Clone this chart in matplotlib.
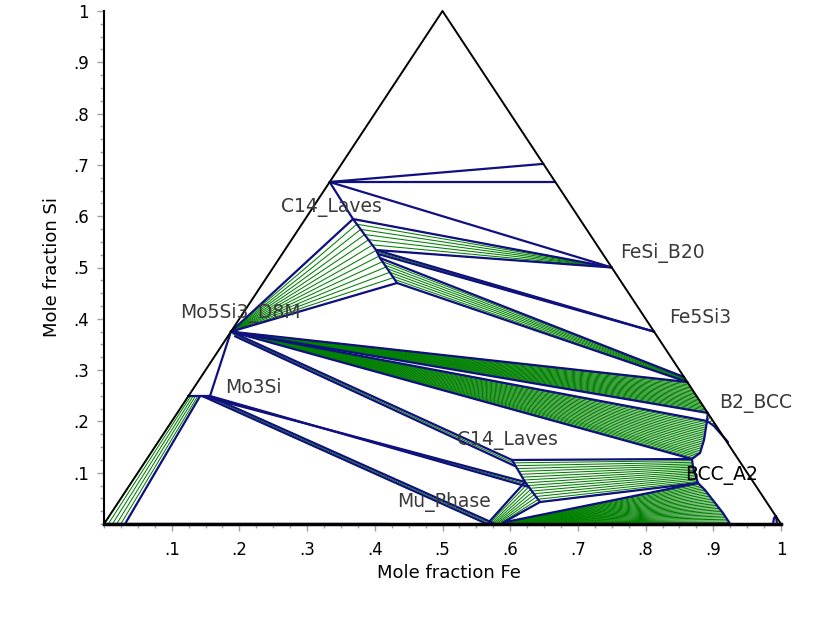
import numpy as np
import matplotlib.pyplot as plt

# ---------------------------------------------
# key points
# plot coordinates: x along the Fe axis, y = mole fraction Si
# ---------------------------------------------
corner_mo = (0.0, 0.0)
corner_fe = (1.0, 0.0)
corner_si = (0.5, 1.0)

mosi2 = (0.3333, 0.6667)
si_edge_hi = (0.649, 0.702)
si_edge_lo = (0.6667, 0.6667)
fesi = (0.75, 0.5)
fe5si3 = (0.8125, 0.375)
mo5si3 = (0.1875, 0.375)
mo5si3_b = (0.1935, 0.366)

# upper C14 boundary: B, D, D', E, C
c14_hi = [(0.3678, 0.5945), (0.4018, 0.5341), (0.4047, 0.5263),
          (0.4077, 0.5185), (0.4328, 0.4698)]

b2_edge = [(0.8567, 0.2865), (0.8616, 0.2768), (0.8918, 0.2164)]

bcc_a2 = [(0.8907, 0.2008), (0.8863, 0.1637), (0.8804, 0.1384),
          (0.8685, 0.1267), (0.8700, 0.1111), (0.8774, 0.0799),
          (0.8877, 0.0663), (0.9143, 0.0214), (0.925, 0.0)]

b2_a2 = [(0.8907, 0.2008), (0.9010, 0.1910), (0.9217, 0.1598)]

c14_lo = [(0.6027, 0.1248), (0.6219, 0.0819), (0.6440, 0.0429)]
c14_lo_b = [(0.607, 0.113), (0.628, 0.072)]
mu = [(0.566, 0.0), (0.590, 0.003)]
mu_b = (0.578, 0.0)
mo3si = [(0.1248, 0.2495), (0.145, 0.2495), (0.1566, 0.2495)]
mo3si_b = (0.155, 0.2495)
mo3si_bcc = (0.142, 0.2495)
mo_bcc = [(0.0, 0.0), (0.031, 0.0)]
bottom_bcc_end = (0.42, 0.0)
corner_arc = [(0.9882, 0.0), (0.9897, 0.0117), (0.9926, 0.0156), (0.9941, 0.0)]
b2_a2_edge = [(0.8955, 0.209), (0.9045, 0.191)]

# number of tie lines counted in each two-phase band
n_mo_mo3si = 6
n_mo5si3_c14 = 13
n_c14_fesi = 7
n_c14_b2 = 8
n_mo5si3_b2 = 22
n_mo5si3_bcc = 24
n_c14_bcc = 16
n_mu_c14 = 9
n_mu_bcc = 28

x_ticks = [0.1, 0.2, 0.3, 0.4, 0.5, 0.6, 0.7, 0.8, 0.9, 1.0]
x_ticklabels = ['.1', '.2', '.3', '.4', '.5', '.6', '.7', '.8', '.9', '1']
y_ticks = x_ticks
y_ticklabels = x_ticklabels

phase_labels = ['C14_Laves', 'FeSi_B20', 'Fe5Si3', 'Mo5Si3_D8M', 'Mo3Si',
                'B2_BCC', 'C14_Laves', 'BCC_A2', 'Mu_Phase']
label_x = [0.2615, 0.762, 0.8346, 0.1123, 0.1787, 0.9084, 0.5214, 0.858, 0.4328]
label_y = [0.616, 0.528, 0.4016, 0.411, 0.267, 0.234, 0.1637, 0.0955, 0.0429]

BLUE = '#10107f'
GREEN = '#008000'


def along(poly, n):
    p = np.array(poly, float)
    if len(p) == 1:
        return np.repeat(p, n, axis=0)
    seg = np.hypot(*np.diff(p, axis=0).T)
    s = np.concatenate([[0], np.cumsum(seg)])
    t = np.linspace(0, s[-1], n)
    return np.column_stack([np.interp(t, s, p[:, 0]), np.interp(t, s, p[:, 1])])


def ties(ax, side1, side2, n):
    a = along(side1, n)
    b = along(side2, n)
    for p, q in zip(a, b):
        ax.plot([p[0], q[0]], [p[1], q[1]], color=GREEN, lw=0.75, zorder=2,
                clip_on=False)


def blue(ax, *pts):
    xs = [p[0] for p in pts]
    ys = [p[1] for p in pts]
    ax.plot(xs, ys, color=BLUE, lw=1.6, zorder=3, clip_on=False,
            solid_capstyle='round')


fig = plt.figure(figsize=(8.24, 6.2), dpi=100)
ax = fig.add_axes([104 / 824, 1 - 524 / 620, 677 / 824, 513 / 620])
ax.set_xlim(0, 1)
ax.set_ylim(0, 1)

# ---------------------------------------------
# tie lines
# ---------------------------------------------
ties(ax, mo_bcc, [mo3si[0], mo3si_bcc], n_mo_mo3si)
ties(ax, [mo5si3], [c14_hi[0], c14_hi[4]], n_mo5si3_c14)
ties(ax, c14_hi[0:2], [fesi], n_c14_fesi)
ties(ax, c14_hi[3:5], b2_edge[0:2], n_c14_b2)
ties(ax, [mo5si3], b2_edge[1:3], n_mo5si3_b2)
ties(ax, [mo5si3], bcc_a2[0:4], n_mo5si3_bcc)
ties(ax, c14_lo, bcc_a2[3:6], n_c14_bcc)
ties(ax, mu, c14_lo[1:3], n_mu_c14)
ties(ax, [mu[1]], bcc_a2[5:9], n_mu_bcc)
ties(ax, [bcc_a2[0], b2_a2[1]], b2_a2_edge, 4)
# narrow two-phase slivers
ties(ax, c14_hi[1:3], [fe5si3], 3)
ties(ax, [mo5si3, mo5si3_b], [c14_lo[0], c14_lo_b[0]], 3)
ties(ax, [mo3si[1], mo3si[2]], [c14_lo[1], c14_lo_b[1]], 3)
ties(ax, [mo3si[1], mo3si_b], [mu[0], mu_b], 3)

# ---------------------------------------------
# phase boundaries
# ---------------------------------------------
blue(ax, mosi2, si_edge_hi)
blue(ax, mosi2, si_edge_lo)
blue(ax, mosi2, fesi)
blue(ax, mosi2, *c14_hi)
blue(ax, c14_hi[0], fesi)
blue(ax, c14_hi[1], fesi)
blue(ax, c14_hi[1], fe5si3)
blue(ax, c14_hi[2], fe5si3)
blue(ax, c14_hi[3], b2_edge[0])
blue(ax, c14_hi[4], b2_edge[1])
blue(ax, mo5si3, c14_hi[0])
blue(ax, mo5si3, c14_hi[4])
blue(ax, mo5si3, b2_edge[1])
blue(ax, mo5si3, b2_edge[2])
blue(ax, mo5si3, bcc_a2[0])
blue(ax, mo5si3, bcc_a2[3])
blue(ax, mo5si3, c14_lo[0])
blue(ax, mo5si3_b, c14_lo_b[0])
blue(ax, mo3si[1], c14_lo[1])
blue(ax, mo3si[2], c14_lo_b[1])
blue(ax, mo3si[1], mu[0])
blue(ax, mo3si_b, mu_b)
blue(ax, mo3si[2], mo5si3)
blue(ax, mo3si[0], mo3si[2])
blue(ax, mo_bcc[1], mo3si_bcc)
blue(ax, corner_mo, bottom_bcc_end)
blue(ax, *c14_lo)
blue(ax, c14_lo[0], bcc_a2[3])
blue(ax, c14_lo[2], bcc_a2[5])
blue(ax, mu[0], c14_lo[1])
blue(ax, mu[1], c14_lo[2])
blue(ax, mu[1], bcc_a2[5])
blue(ax, *bcc_a2)
blue(ax, b2_edge[2], *b2_a2)
blue(ax, *corner_arc)

# triangle
tri = [corner_mo, corner_fe, corner_si, corner_mo]
ax.plot([p[0] for p in tri], [p[1] for p in tri], color='black', lw=1.4,
        zorder=4, clip_on=False)

# ---------------------------------------------
# labels
# ---------------------------------------------
for i, name in enumerate(phase_labels):
    col = 'black' if name == 'BCC_A2' else '#3a3a3a'
    ax.text(label_x[i], label_y[i], name, fontsize=13.5, color=col,
            ha='left', va='center', zorder=5)

ax.text(0.5096, -0.0955, 'Mole fraction Fe', fontsize=13, ha='center',
        va='center', transform=ax.transAxes)
ax.text(-0.0768, 0.501, 'Mole fraction Si', fontsize=13, ha='center',
        va='center', rotation=90, transform=ax.transAxes)

# axes style
for s in ['top', 'right']:
    ax.spines[s].set_visible(False)
ax.spines['left'].set_linewidth(1.5)
ax.spines['bottom'].set_linewidth(2.5)

ax.set_xticks(x_ticks)
ax.set_xticklabels(x_ticklabels)
ax.set_yticks(y_ticks)
ax.set_yticklabels(y_ticklabels)
ax.set_xticks(np.arange(0, 1.0001, 0.025), minor=True)
ax.set_yticks(np.arange(0, 1.0001, 0.025), minor=True)
ax.tick_params(which='major', direction='out', length=5, width=1,
               color='#a0a0a0', labelsize=12)
ax.tick_params(axis='x', which='major', pad=7)
ax.tick_params(axis='y', which='major', pad=6)
ax.tick_params(which='minor', direction='out', length=3, width=1,
               color='#a0a0a0')

plt.savefig('out.png', dpi=100)
